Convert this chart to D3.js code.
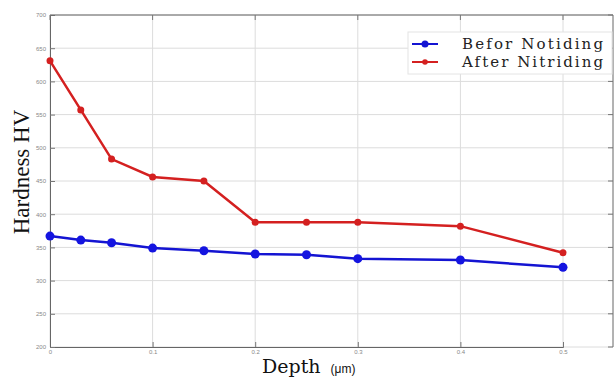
<!DOCTYPE html>
<html>
<head>
<meta charset="utf-8">
<script src="https://cdn.jsdelivr.net/npm/d3@7"></script>
<style>
  body { margin: 0; background: #fff; }
</style>
</head>
<body>
<div id="chart"></div>
<script>
const depth = [0, 0.03, 0.06, 0.1, 0.15, 0.2, 0.25, 0.3, 0.4, 0.5];
const before = [367, 361, 357, 349, 345, 340, 339, 333, 331, 320];
const after = [631, 557, 483, 456, 450, 388, 388, 388, 382, 342];
const yTicks = [200, 250, 300, 350, 400, 450, 500, 550, 600, 650, 700];
const xTicks = [0, 0.1, 0.2, 0.3, 0.4, 0.5];
const seriesNames = ["Befor Notiding", "After Nitriding"];

const width = 615, height = 379;
const margin = { top: 15, left: 50, bottom: 32, right: 2 };
const iwidth = width - margin.left - margin.right;
const iheight = height - margin.top - margin.bottom;

const svg = d3.select("#chart").append("svg")
  .attr("width", width).attr("height", height);
const g = svg.append("g").attr("transform", `translate(${margin.left},${margin.top})`);

const x = d3.scaleLinear().domain([0, 0.5]).range([0, 513]);
const y = d3.scaleLinear().domain([200, 700]).range([iheight, 0]);

// grid
g.selectAll(".hgrid").data(yTicks).enter().append("line")
  .attr("x1", 0).attr("x2", iwidth)
  .attr("y1", d => y(d)).attr("y2", d => y(d))
  .attr("stroke", "#dcdcdc").attr("stroke-width", 1);
g.selectAll(".vgrid").data(xTicks).enter().append("line")
  .attr("y1", 0).attr("y2", iheight)
  .attr("x1", d => x(d)).attr("x2", d => x(d))
  .attr("stroke", "#dcdcdc").attr("stroke-width", 1);

// axes
const xAxis = g.append("g").attr("transform", `translate(0,${iheight})`)
  .call(d3.axisBottom(x).tickValues(xTicks).tickSize(-5).tickFormat(d => d === 0 ? "0" : d3.format(".1f")(d)));
const yAxis = g.append("g")
  .call(d3.axisLeft(y).tickValues(yTicks).tickSize(-5));
[xAxis, yAxis].forEach(a => {
  a.select(".domain").attr("stroke", "#666");
  a.selectAll(".tick line").attr("stroke", "#777");
  a.selectAll("text").attr("fill", "#888").style("font-size", "6px").style("font-family", "Liberation Sans");
});
xAxis.selectAll("text").attr("y", 3).attr("dy", "0.71em");
yAxis.selectAll("text").attr("x", -4);

// top and right box
g.append("line").attr("x1", 0).attr("x2", iwidth).attr("y1", 0).attr("y2", 0).attr("stroke", "#666");
g.append("line").attr("x1", iwidth).attr("x2", iwidth).attr("y1", 0).attr("y2", iheight).attr("stroke", "#666");
g.selectAll(".ttick").data(xTicks).enter().append("line")
  .attr("x1", d => x(d)).attr("x2", d => x(d)).attr("y1", 0).attr("y2", 5).attr("stroke", "#777");
g.selectAll(".rtick").data(yTicks).enter().append("line")
  .attr("x1", iwidth - 5).attr("x2", iwidth).attr("y1", d => y(d)).attr("y2", d => y(d)).attr("stroke", "#777");

const line = d3.line().x((d, i) => x(depth[i])).y(d => y(d));

// blue
g.append("path").datum(before).attr("d", line)
  .attr("fill", "none").attr("stroke", "#1414d2").attr("stroke-width", 2.5);
g.selectAll(".pb").data(before).enter().append("circle")
  .attr("cx", (d, i) => x(depth[i])).attr("cy", d => y(d)).attr("r", 4.5)
  .attr("fill", "#1414e0");

// red
g.append("path").datum(after).attr("d", line)
  .attr("fill", "none").attr("stroke", "#d42020").attr("stroke-width", 2.5);
g.selectAll(".pr").data(after).enter().append("circle")
  .attr("cx", (d, i) => x(depth[i])).attr("cy", d => y(d)).attr("r", 3.5)
  .attr("fill", "#d42020");

// legend
const lg = svg.append("g").attr("transform", "translate(408,32)");
lg.append("rect").attr("x", 0).attr("y", 0).attr("width", 204).attr("height", 42)
  .attr("fill", "#fff").attr("stroke", "#e4e4e4");
const colors = ["#1414d2", "#d42020"];
seriesNames.forEach((name, i) => {
  const yy = 12 + i * 18;
  lg.append("line").attr("x1", 4).attr("x2", 30).attr("y1", yy).attr("y2", yy)
    .attr("stroke", colors[i]).attr("stroke-width", 2);
  lg.append("circle").attr("cx", 17).attr("cy", yy).attr("r", i === 0 ? 3.5 : 2.8).attr("fill", colors[i]);
  lg.append("text").attr("x", 54).attr("y", yy + 5).text(name)
    .attr("textLength", 141).attr("lengthAdjust", "spacing")
    .style("font-family", "DejaVu Serif").style("font-size", "15px").attr("fill", "#222");
});

// axis titles
svg.append("text").attr("transform", "translate(29,172) rotate(-90)")
  .attr("text-anchor", "middle").text("Hardness HV")
  .style("font-family", "Liberation Serif").style("font-size", "23px").attr("fill", "#111");
const xl = svg.append("text").attr("x", 262).attr("y", 373)
  .style("font-family", "DejaVu Serif").attr("fill", "#111");
xl.append("tspan").text("Depth").style("font-size", "19px");
xl.append("tspan").text("(μm)").style("font-size", "12px").style("font-family", "Liberation Sans").attr("dx", 10);
</script>
</body>
</html>
